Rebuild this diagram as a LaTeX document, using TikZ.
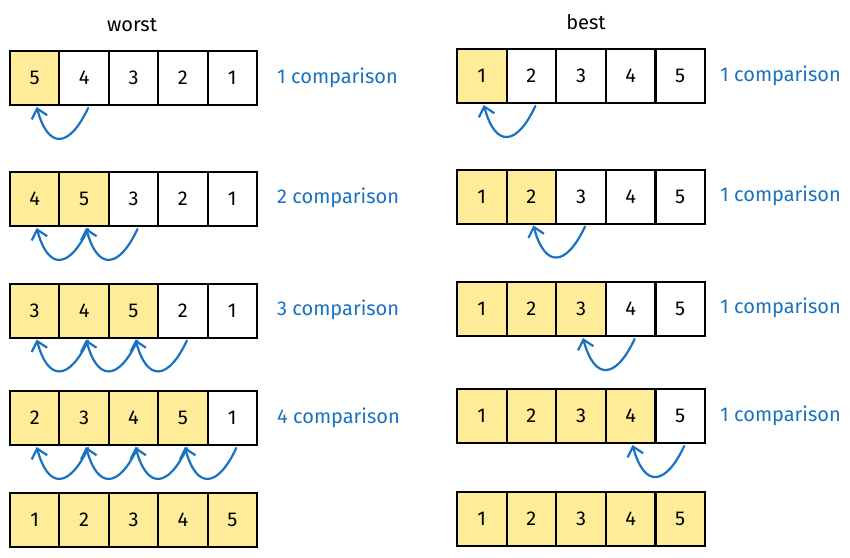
\documentclass[tikz,border=0pt]{standalone}
\usepackage{fontspec}
\setmainfont{Fira Sans}
\usetikzlibrary{arrows.meta}
\definecolor{cell_yellow}{RGB}{255,236,153}
\definecolor{cmp_blue}{RGB}{25,113,194}
\tikzstyle{cell}=[rectangle,draw=black,line width=2pt,inner sep=0pt,
  minimum width=49.4pt,minimum height=54pt,font=\fontsize{20}{24}\selectfont]
\tikzstyle{cmp}=[anchor=west,inner sep=0pt,text=cmp_blue,font=\fontsize{20}{24}\selectfont]
\tikzstyle{hop}=[draw=cmp_blue,line width=2.2pt,line cap=round,
  -{Straight Barb[length=9pt,width=16pt,line width=2.2pt]},out=-115,in=-75,looseness=2.2]

\begin{document}
\begin{tikzpicture}[x=1pt,y=-1pt]
        \useasboundingbox (0,0) rectangle (850,557);
        \node[font=\fontsize{20}{24}\selectfont] (worst) at (132,25) {worst};
        \node[font=\fontsize{20}{24}\selectfont] (best) at (586,22) {best};
        % worst case rows
        \foreach \r/\yy/\vals/\nyel in {1/78/{5,4,3,2,1}/1, 2/199/{4,5,3,2,1}/2,
            3/310.5/{3,4,5,2,1}/3, 4/418/{2,3,4,5,1}/4, 5/520/{1,2,3,4,5}/5} {
          \foreach \v [count=\i] in \vals {
            \ifnum\i>\nyel \def\cellfill{white}\else\def\cellfill{cell_yellow}\fi
            \node[cell,fill=\cellfill] (w\r-\i) at ({10+49.4*(\i-0.5)},\yy) {\v};
          }
        }
        % best case rows
        \foreach \r/\yy in {1/76, 2/196.5, 3/309, 4/416, 5/518.5} {
          \foreach \v in {1,...,5} {
            \ifnum\v>\r \def\cellfill{white}\else\def\cellfill{cell_yellow}\fi
            \node[cell,fill=\cellfill] (b\r-\v) at ({457+49.6*(\v-0.5)},\yy) {\v};
          }
        }
        \foreach \r/\yy in {1/78, 2/198, 3/310, 4/418}
          \node[cmp] (wl\r) at (277,\yy) {\r\ comparison};
        \foreach \r/\yy in {1/76, 2/196, 3/308, 4/416}
          \node[cmp] (bl\r) at (720,\yy) {1 comparison};
        % arrows
        \foreach \r in {1,...,4} {
          \pgfmathtruncatemacro\last{\r+1}
          \foreach \j in {2,...,\last} {
            \pgfmathtruncatemacro\prev{\j-1}
            \draw[hop] ([xshift=4pt,yshift=-2pt]w\r-\j.south) to ([xshift=2pt,yshift=-1pt]w\r-\prev.south);
          }
          \draw[hop] ([xshift=4pt,yshift=-2pt]b\r-\last.south) to ([xshift=2pt,yshift=-1pt]b\r-\r.south);
        }
    \end{tikzpicture}
\end{document}
